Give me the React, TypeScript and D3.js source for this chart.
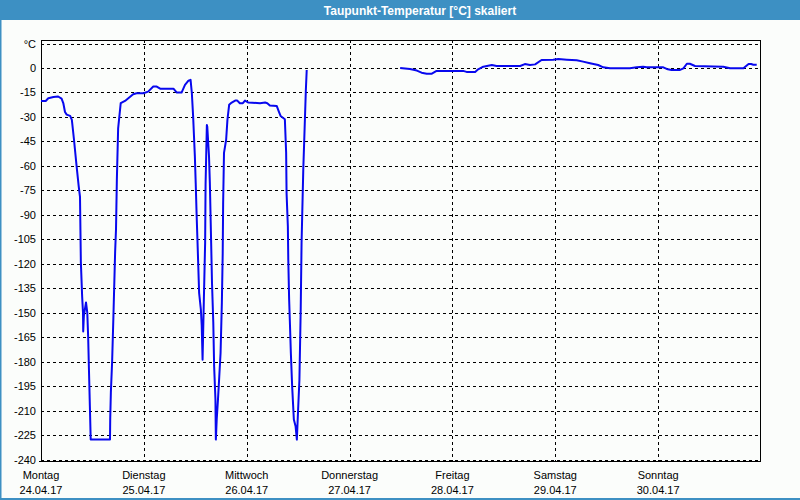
import React from "react";
import * as d3 from "d3";

const TITLE = "Taupunkt-Temperatur [°C] skaliert";
const UNIT = "°C";
const dayNames = ["Montag", "Dienstag", "Mittwoch", "Donnerstag", "Freitag", "Samstag", "Sonntag"];
const dayDates = ["24.04.17", "25.04.17", "26.04.17", "27.04.17", "28.04.17", "29.04.17", "30.04.17"];
const yTicks = d3.range(-240, 16, 15);

// hours since Monday 00:00, dew point in °C
const seg1Hours = [
  0, 1.1, 1.7, 2.9, 4.0, 4.8, 5.2, 5.6, 6.0, 6.8, 7.2, 7.7, 8.3, 8.8, 9.1, 9.2, 9.3, 9.6, 9.8, 9.85,
  10.0, 10.5, 10.8, 11.0, 11.2, 11.4, 11.6, 16.1, 16.15, 16.3, 16.6, 16.9, 17.3, 17.5, 17.7, 18.0, 18.6,
  19.6, 20.8, 21.5, 22.3, 23.9, 25.0, 26.2, 27.0, 27.8, 30.9, 31.7, 32.8, 33.6, 34.4, 34.9, 35.2, 35.5,
  35.7, 35.9, 36.1, 36.3, 36.5, 36.7, 36.9, 37.3, 37.5, 37.7, 38.0, 38.3, 38.4, 38.7, 38.8, 39.2, 39.4,
  39.7, 39.9, 40.2, 40.4, 40.7, 40.8, 41.0, 41.3, 41.6, 41.9, 42.2, 42.4, 42.5, 42.7, 43.2, 43.5, 43.9,
  44.5, 45.3, 45.8, 46.4, 47.1, 47.6, 48.4, 51.1, 52.3, 52.8, 53.4, 55.0, 55.5, 55.9, 56.9, 57.2, 57.3,
  57.6, 57.7, 57.9, 58.1, 58.3, 58.6, 59.0, 59.4, 59.7, 60.0, 60.3, 60.6, 60.8, 61.2, 61.4, 61.6, 61.8, 62.0,
];
const seg1Values = [
  -20.2, -20.2, -18.6, -17.8, -17.5, -18.8, -21.5, -27, -28.6, -29.4, -31.8, -44, -60, -72.6, -79, -99, -119, -140, -150, -161.5,
  -152, -143.7, -150, -164.5, -186, -207, -227.8, -227.8, -215.5, -199, -179.8, -152, -112.5, -99, -68.6, -37, -21.6,
  -20.2, -17.6, -16.1, -15.5, -15.5, -14.5, -11.4, -11.4, -12.7, -12.7, -15.1, -15.1, -10.4, -7.8, -7.3, -15.5, -29.8,
  -42, -54, -70.6, -89, -105, -121.6, -138, -148, -158, -178.8, -142, -107, -71.6, -35, -36, -54, -70.6,
  -107, -131.8, -156, -183, -203, -227.8, -215.5, -203, -189, -174.7, -144, -113.5, -82.8, -52, -44, -31.8, -22.6,
  -21.2, -20, -20, -21.6, -21.6, -20, -21.2, -21.6, -21.2, -21.6, -23, -23.3, -26.7, -29.4, -31.4, -52, -76.7,
  -97, -117.5, -142, -158, -174.7, -195, -215.5, -219.6, -227.8, -209, -191, -148, -107, -62, -46, -29.8, -13.5, -1.2,
];
const seg2Hours = [
  83.8, 86.1, 87.7, 88.8, 90.0, 91.2, 92.3, 98.5, 99.3, 101.3, 102.0, 103.2, 105.2, 106.3, 111.8, 112.9,
  114.1, 115.3, 116.8, 119.5, 120.7, 122.7, 125.0, 126.5, 128.1, 130.0, 131.2, 132.8, 137.4, 139.0, 140.5,
  141.3, 145.2, 146.0, 147.1, 149.1, 149.9, 150.7, 151.4, 152.6, 159.2, 160.8, 163.9, 165.1, 165.7, 166.2, 167.0,
];
const seg2Values = [
  0, -0.6, -1.6, -2.9, -3.5, -3.5, -1.8, -1.8, -2.4, -2.4, -0.8, 0.8, 1.8, 1.2, 1.2, 2.4,
  1.8, 2.2, 4.9, 5.1, 5.5, 5.1, 4.7, 3.9, 2.9, 1.8, 0.4, -0.2, -0.2, 0.4, 0.8,
  0.4, 0.4, -0.6, -1.2, -1.2, -0.2, 2.6, 2.6, 1.2, 0.8, -0.2, -0.2, 2.4, 2.4, 2, 2,
];

const W = 800;
const H = 500;
const left = 41;
const right = 760;
const top = 40;
const bottom = 460;
const FONT = "'Liberation Sans', Arial, sans-serif";
const BLUE_FRAME = "#3d90c3";

export default function App() {
  const x = d3.scaleLinear().domain([0, 168]).range([left, 761]);
  const y = d3.scaleLinear().domain([-240, 15]).range([bottom - 0.5, 43.5]);
  const line = d3
    .line<[number, number]>()
    .x((d) => x(d[0]))
    .y((d) => y(d[1]));
  const seg1 = seg1Hours.map((h, i) => [h, seg1Values[i]] as [number, number]);
  const seg2 = seg2Hours.map((h, i) => [h, seg2Values[i]] as [number, number]);
  const dayTicks = d3.range(0, 7);

  return (
    <svg
      width={W}
      height={H}
      style={{ position: "absolute", left: 0, top: 0, display: "block" }}
      fontFamily={FONT}
    >
      <rect x={0} y={0} width={W} height={H} fill="#fbfdfb" />
      <rect x={0} y={0} width={1.5} height={H} fill={BLUE_FRAME} />
      <rect x={0} y={H - 2} width={W} height={2} fill={BLUE_FRAME} />
      <rect x={0} y={0} width={W} height={20} fill={BLUE_FRAME} />
      <text x={420} y={14.5} fill="#ffffff" fontSize={12} fontWeight="bold" textAnchor="middle">
        {TITLE}
      </text>

      {/* horizontal grid */}
      {yTicks.map((t) => (
        <g key={"y" + t}>
          <line
            x1={left}
            x2={right}
            y1={Math.round(y(t)) + 0.5}
            y2={Math.round(y(t)) + 0.5}
            stroke="#000"
            strokeDasharray="3,3"
            strokeWidth={1}
          />
          <text x={36} y={y(t) + 4} fontSize={11} textAnchor="end" fill="#000">
            {t === 15 ? UNIT : String(t)}
          </text>
        </g>
      ))}

      {/* vertical grid + day labels */}
      {dayTicks.map((d) => (
        <g key={"d" + d}>
          {d > 0 && (
            <line
              x1={Math.round(x(d * 24)) + 0.5}
              x2={Math.round(x(d * 24)) + 0.5}
              y1={top}
              y2={bottom + 1}
              stroke="#000"
              strokeDasharray="3,3"
            />
          )}
          <text x={x(d * 24)} y={479} fontSize={11} textAnchor="middle" fill="#000">
            {dayNames[d]}
          </text>
          <text x={x(d * 24)} y={494} fontSize={11} textAnchor="middle" fill="#000">
            {dayDates[d]}
          </text>
        </g>
      ))}

      {/* frame */}
      <line x1={left + 0.5} x2={left + 0.5} y1={top} y2={bottom + 2} stroke="#000" />
      <line x1={right + 0.5} x2={right + 0.5} y1={top} y2={bottom + 2} stroke="#000" />
      <line x1={left} x2={right + 1} y1={top + 0.5} y2={top + 0.5} stroke="#000" />
      <line x1={left - 2} x2={right + 1} y1={bottom + 1.5} y2={bottom + 1.5} stroke="#000" />

      <path d={line(seg1) || ""} fill="none" stroke="#0808ee" strokeWidth={2} strokeLinejoin="round" />
      <path d={line(seg2) || ""} fill="none" stroke="#0808ee" strokeWidth={2} strokeLinejoin="round" />
    </svg>
  );
}
